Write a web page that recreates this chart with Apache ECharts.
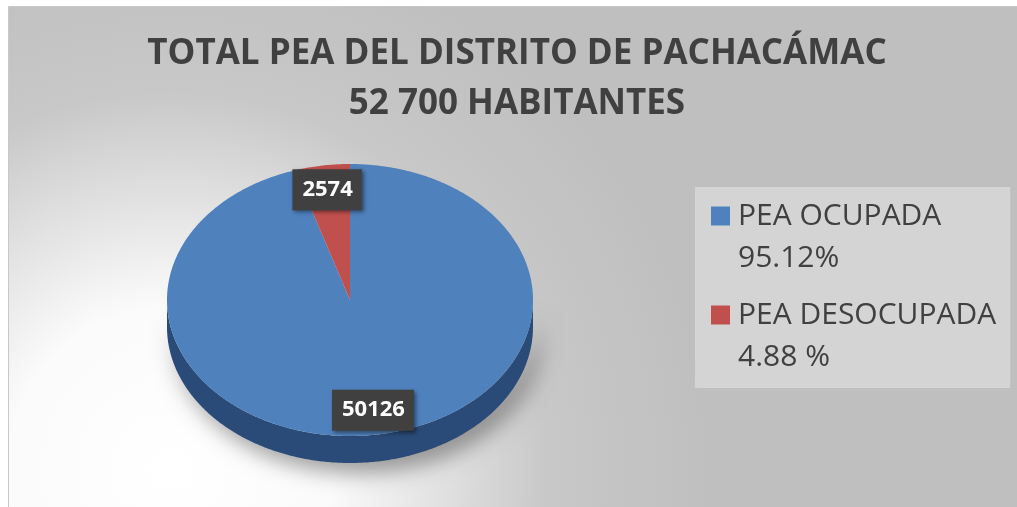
<!DOCTYPE html>
<html>
<head>
<meta charset="utf-8">
<script src="https://cdn.jsdelivr.net/npm/echarts@6/dist/echarts.min.js"></script>
<style>
  html, body { margin: 0; padding: 0; background: #fff; }
  #chart { width: 1017px; height: 507px; }
</style>
</head>
<body>
<div id="chart"></div>
<script>
// datos
var categorias = ['PEA OCUPADA', 'PEA DESOCUPADA'];
var valores = [50126, 2574];
var porcentajes = ['95.12%', '4.88 %'];
var colores = ['#4f81bd', '#c0504d'];
var coloresLado = ['#2a4a77', '#7d2f2d'];

var titulo = 'TOTAL PEA DEL DISTRITO DE PACHACÁMAC\n52 700 HABITANTES';

// geometria del pastel 3D (elipse)
var CX = 350, CY = 300, RX = 183, RY = 136, PROF = 27;

var total = valores.reduce(function (a, b) { return a + b; }, 0);

function punto(a, dy) {
  return [CX + RX * Math.sin(a), CY - RY * Math.cos(a) + (dy || 0)];
}

function arco(a0, a1, dy) {
  var pts = [];
  var n = Math.max(2, Math.ceil((a1 - a0) / 0.01));
  for (var k = 0; k <= n; k++) {
    pts.push(punto(a0 + (a1 - a0) * k / n, dy));
  }
  return pts;
}

function renderPorcion(params, api) {
  var ini = api.value(0), val = api.value(1), tot = api.value(2);
  var i = params.seriesIndex;
  var a0 = ini / tot * Math.PI * 2;
  var a1 = (ini + val) / tot * Math.PI * 2;
  var children = [];

  // lado visible (parte delantera de la elipse)
  var s = Math.max(a0, Math.PI / 2), e = Math.min(a1, Math.PI * 1.5);
  if (e > s) {
    var arriba = arco(s, e, 0);
    var abajo = arco(s, e, PROF).reverse();
    children.push({
      type: 'polygon',
      shape: { points: arriba.concat(abajo) },
      style: {
        fill: coloresLado[i],
        shadowBlur: 22,
        shadowColor: 'rgba(0,0,0,0.4)',
        shadowOffsetX: 7,
        shadowOffsetY: 9
      }
    });
  }

  // cara superior
  children.push({
    type: 'polygon',
    shape: { points: [[CX, CY]].concat(arco(a0, a1, 0)) },
    style: { fill: colores[i] }
  });

  // etiqueta con el valor
  var am = (a0 + a1) / 2;
  var k = 0.82;
  children.push({
    type: 'text',
    x: CX + k * RX * Math.sin(am),
    y: CY - k * RY * Math.cos(am),
    z2: 10,
    style: {
      text: String(val),
      align: 'center',
      verticalAlign: 'middle',
      fill: '#ffffff',
      font: 'bold 22px "Open Sans"',
      backgroundColor: '#404040',
      padding: [9, 9, 10, 10],
      shadowBlur: 4,
      shadowColor: 'rgba(0,0,0,0.45)',
      shadowOffsetX: 2,
      shadowOffsetY: 2
    }
  });

  return { type: 'group', children: children };
}

var series = categorias.map(function (nombre, i) {
  var acumulado = 0;
  for (var j = 0; j < i; j++) acumulado += valores[j];
  return {
    name: nombre,
    type: 'custom',
    coordinateSystem: 'none',
    silent: true,
    animation: false,
    itemStyle: { color: colores[i] },
    renderItem: renderPorcion,
    data: [[acumulado, valores[i], total]]
  };
});

var chart = echarts.init(document.getElementById('chart'));
chart.setOption({
  animation: false,
  graphic: [{
    type: 'rect',
    z: -10,
    shape: { x: 8.5, y: 6.5, width: 1100, height: 600 },
    style: {
      fill: new echarts.graphic.RadialGradient(170, 470, 540, [
        { offset: 0, color: '#ffffff' },
        { offset: 0.3, color: '#fbfbfb' },
        { offset: 0.7, color: '#c8c8c8' },
        { offset: 1, color: '#bfbfbf' }
      ], true),
      stroke: '#c8c8c8',
      lineWidth: 1
    }
  }],
  title: {
    text: titulo,
    left: 512,
    textAlign: 'center',
    top: 24,
    textStyle: {
      fontFamily: 'Open Sans',
      fontWeight: 'bold',
      fontSize: 35,
      lineHeight: 50,
      color: '#404040'
    }
  },
  legend: {
    orient: 'vertical',
    left: 695,
    top: 187,
    padding: [8, 14, 10, 16],
    backgroundColor: '#d4d4d4',
    itemWidth: 19,
    itemHeight: 61,
    itemGap: 15,
    itemStyle: { borderWidth: 0 },
    icon: 'path://M0,0L19,0L19,19L0,19Z M0,61L19,61',
    data: categorias,
    formatter: function (name) {
      return name + '\n' + porcentajes[categorias.indexOf(name)];
    },
    textStyle: {
      fontFamily: 'Open Sans',
      fontSize: 30,
      lineHeight: 42,
      padding: [0, 0, 0, 3],
      color: '#404040'
    }
  },
  series: series
});
</script>
</body>
</html>
